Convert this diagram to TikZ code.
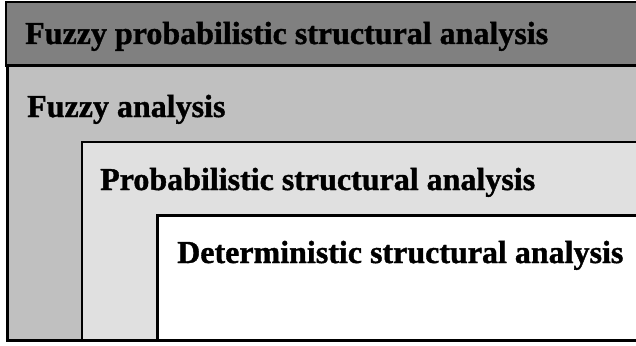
\documentclass[tikz,border=0pt]{standalone}
\usepackage{fontspec}
\setmainfont[BoldFeatures={FakeBold=1.2}]{Liberation Serif}
\definecolor{bandgray}{HTML}{808080}
\definecolor{fuzzygray}{HTML}{C0C0C0}
\definecolor{probgray}{HTML}{E0E0E0}
\tikzset{
    levelbox/.style={draw=black, line width=2.4pt},
    leveltext/.style={anchor=base west, inner sep=0pt, font=\bfseries\fontsize{32}{36}\selectfont}
}
\begin{document}
\begin{tikzpicture}[x=1pt, y=-1pt]
    \useasboundingbox (0,0) rectangle (636,345);
    \clip (0,0) rectangle (636,345);

    \def\xr{660};
    \def\yb{340.5};
    \def\dy{73};
    \def\ybase{44};

% boxes

    \filldraw[levelbox, fill=bandgray] (6,2) rectangle (\xr, 65.5);
    \filldraw[levelbox, fill=fuzzygray] (7.5,65.5) rectangle (\xr, \yb);
    \filldraw[levelbox, fill=probgray] (82,142) rectangle (\xr, \yb);
    \filldraw[levelbox, fill=white] (157.5,215.5) rectangle (\xr, \yb);

% labels

    \node[leveltext] (fpsa) at (25, \ybase) {Fuzzy probabilistic structural analysis};
    \node[leveltext] (fa) at (27, \ybase + 1 * \dy) {Fuzzy analysis};
    \node[leveltext] (psa) at (100, \ybase + 2 * \dy) {Probabilistic structural analysis};
    \node[leveltext] (dsa) at (177, \ybase + 3 * \dy) {Deterministic structural analysis};

\end{tikzpicture}
\end{document}
